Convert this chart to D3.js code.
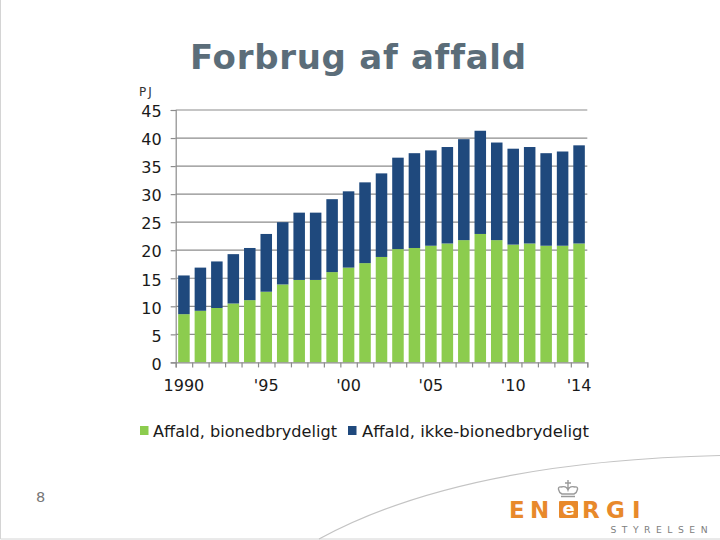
<!DOCTYPE html>
<html><head><meta charset="utf-8">
<style>html,body{margin:0;padding:0;background:#fff}svg{display:block}text{font-family:"DejaVu Sans",sans-serif}</style>
<script src="https://cdn.jsdelivr.net/npm/d3@7"></script></head>
<body><svg id="c" width="720" height="540"></svg>
<script>
const years=[1990,1991,1992,1993,1994,1995,1996,1997,1998,1999,2000,2001,2002,2003,2004,2005,2006,2007,2008,2009,2010,2011,2012,2013,2014];
const bio=[8.6,9.2,9.7,10.5,11.1,12.6,13.9,14.7,14.7,16.1,16.9,17.7,18.8,20.2,20.4,20.8,21.2,21.8,22.9,21.8,21,21.2,20.8,20.8,21.2];
const totals=[15.5,16.9,18,19.3,20.4,22.9,25,26.7,26.7,29.1,30.5,32.1,33.7,36.5,37.3,37.8,38.4,39.8,41.3,39.2,38.1,38.4,37.3,37.6,38.7];
const nonBio=totals.map((t,i)=>+(t-bio[i]).toFixed(1));
const yTicks=[0,5,10,15,20,25,30,35,40,45];
const xLabels={1990:"1990",1995:"'95",2000:"'00",2005:"'05",2010:"'10",2014:"'14"};
const seriesNames=["Affald, bionedbrydeligt","Affald, ikke-bionedbrydeligt"];
const seriesColors=["#8ccc4e","#1f497d"];

const svg=d3.select("#c");
const L=175.7,R=587.3,T=110,B=362.4;
const x=d3.scaleBand().domain(years).range([L,R]).paddingInner(0.3).paddingOuter(0.15);
const y=d3.scaleLinear().domain([0,45]).range([B,T]);
const axisColor="#8c8c8c";

// slide frame and curve
svg.append("path").attr("d","M0.5 0V539H720").attr("fill","none").attr("stroke","#d4d4d4").attr("stroke-width",1);
svg.append("path").attr("d","M319 539C405 492 530 460 720 455.5").attr("fill","none").attr("stroke","#c4c4c4").attr("stroke-width",1.2);

// slide title, unit and page number
svg.append("text").attr("x",190).attr("y",69).attr("font-size",34).attr("font-weight","bold").attr("letter-spacing",0.72).attr("fill","#5b6d79").text("Forbrug af affald");
svg.append("text").attr("x",139).attr("y",96).attr("font-size",12).attr("letter-spacing",2).attr("fill","#333").style("font-family",'"DejaVu Sans ExtraLight","DejaVu Sans"').text("PJ");
svg.append("text").attr("x",36).attr("y",502.3).attr("font-size",14.5).attr("fill","#777").style("font-family",'"DejaVu Sans ExtraLight","DejaVu Sans"').text("8");

// grid
svg.append("g").selectAll("line").data(yTicks.filter(d=>d>0)).join("line")
 .attr("x1",L).attr("x2",R).attr("y1",d=>y(d)).attr("y2",d=>y(d)).attr("stroke",axisColor).attr("stroke-width",1.2);

// bars
const stack=d3.stack().keys(["bio","nonBio"])(years.map((yr,i)=>({yr,bio:bio[i],nonBio:nonBio[i]})));
svg.append("g").selectAll("g").data(stack).join("g").attr("fill",(d,i)=>seriesColors[i])
 .selectAll("rect").data(d=>d).join("rect")
 .attr("x",d=>x(d.data.yr)).attr("width",x.bandwidth())
 .attr("y",d=>y(d[1])).attr("height",d=>y(d[0])-y(d[1]));

// y axis
const gy=svg.append("g").attr("transform",`translate(${L},0)`).call(d3.axisLeft(y).tickValues(yTicks).tickSize(5).tickPadding(9));
gy.select(".domain").attr("stroke",axisColor).attr("stroke-width",1.2);
gy.selectAll("line").attr("stroke",axisColor).attr("stroke-width",1.2);
gy.selectAll("text").attr("font-size",16).attr("fill","#1a1a1a").attr("dy","0.42em").style("font-family",'"DejaVu Sans"');

// x axis
const gx=svg.append("g").attr("transform",`translate(0,${B})`);
gx.call(d3.axisBottom(d3.scaleLinear().domain([0,years.length]).range([L,R])).tickValues(d3.range(years.length+1)).tickSize(5).tickFormat(""));
gx.select(".domain").attr("stroke",axisColor).attr("stroke-width",1.2);
gx.selectAll("line").attr("stroke",axisColor).attr("stroke-width",1.2);
svg.append("g").selectAll("text").data(Object.keys(xLabels).map(Number)).join("text")
 .attr("x",d=>x(d)+x.bandwidth()/2).attr("y",391).attr("text-anchor","middle")
 .attr("font-size",16).attr("fill","#1a1a1a").text(d=>xLabels[d]);

// legend
const lg=[[140,153,184],[348,362,227]];
seriesNames.forEach((n,i)=>{
 svg.append("rect").attr("x",lg[i][0]).attr("y",426).attr("width",8.5).attr("height",9).attr("fill",seriesColors[i]);
 svg.append("text").attr("x",lg[i][1]).attr("y",437).attr("font-size",16).attr("textLength",lg[i][2]).attr("lengthAdjust","spacingAndGlyphs").attr("fill","#1a1a1a").text(n);
});

// logo
const orange="#e8892b";
const logoLetters=[["E",509],["N",530],["R",582],["G",606],["I",632]];
svg.append("g").selectAll("text").data(logoLetters).join("text")
 .attr("x",d=>d[1]).attr("y",518).attr("font-size",23).attr("font-weight","bold").attr("fill",orange).text(d=>d[0]);
svg.append("rect").attr("x",559).attr("y",501).attr("width",19).attr("height",17).attr("rx",1).attr("fill",orange);
svg.append("text").attr("x",568.5).attr("y",515).attr("text-anchor","middle").attr("font-size",18).attr("font-weight","bold").attr("fill","#fff").text("e");
svg.append("text").attr("x",610.5).attr("y",532.7).attr("font-size",9.2).attr("fill","#808080").attr("textLength",97).attr("lengthAdjust","spacing").text("STYRELSEN");
svg.append("path").attr("d","M568 480V490M565 483H571M561 487C557 486 558 492 562 494H574C578 492 579 486 575 487C572 486 569 487 568 490C567 487 564 486 561 487ZM561 496.5H575").attr("fill","none").attr("stroke","#9a9a9a").attr("stroke-width",1.4);
</script></body></html>
